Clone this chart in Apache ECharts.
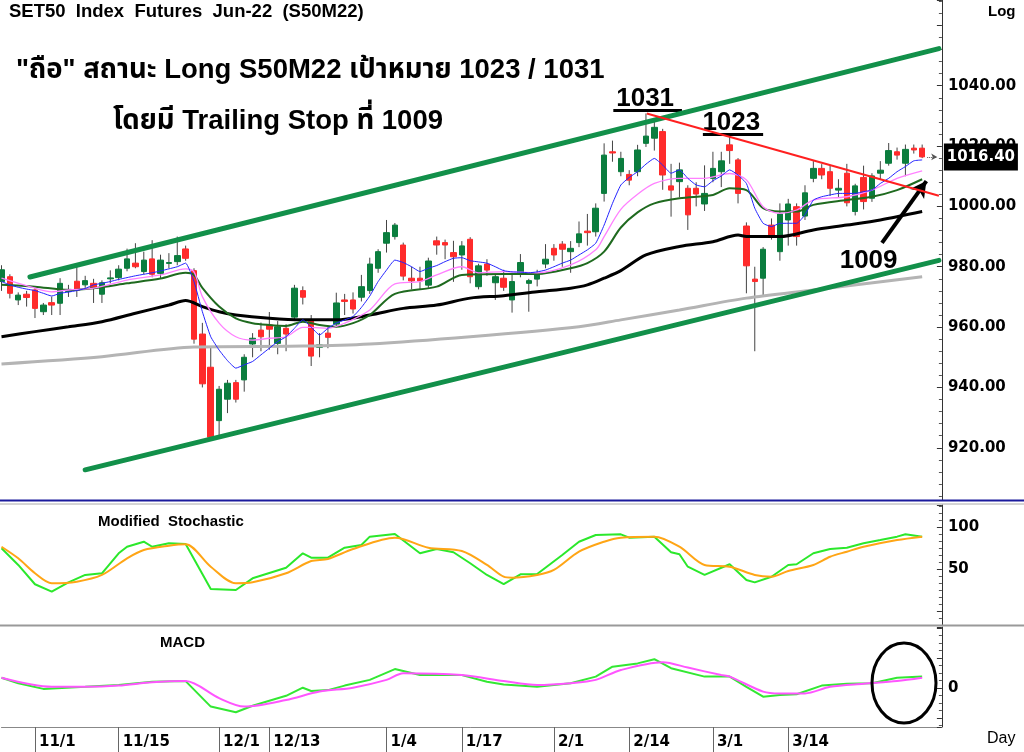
<!DOCTYPE html>
<html><head><meta charset="utf-8">
<script src="https://cdn.jsdelivr.net/npm/echarts@6/dist/echarts.min.js"></script>
<style>html,body{margin:0;padding:0;background:#fff}#c{width:1024px;height:752px}</style>
</head><body><div id="c"></div>
<script>
// ---------- data ----------
const dates = ['10/26','10/27','10/28','10/29','11/1','11/2','11/3','11/4','11/5','11/8','11/9','11/10','11/11','11/12',
'11/15','11/16','11/17','11/18','11/19','11/22','11/23','11/24','11/25','11/26','11/29','11/30','12/1','12/2','12/3',
'12/7','12/8','12/9','12/13','12/14','12/15','12/16','12/17','12/20','12/21','12/22','12/23','12/24','12/27','12/28',
'12/29','12/30','1/4','1/5','1/6','1/7','1/10','1/11','1/12','1/13','1/14','1/17','1/18','1/19','1/20','1/21','1/24',
'1/25','1/26','1/27','1/28','1/31','2/1','2/2','2/3','2/4','2/7','2/8','2/9','2/10','2/11','2/14','2/15','2/17','2/18',
'2/21','2/22','2/23','2/24','2/25','2/28','3/1','3/2','3/3','3/4','3/7','3/8','3/9','3/10','3/11','3/14','3/15','3/16',
'3/17','3/18','3/21','3/22','3/23','3/24','3/25','3/28','3/29','3/30','3/31','4/1','4/4','4/5',' ','  '];
const dateTicks = ['11/1','11/15','12/1','12/13','1/4','1/17','2/1','2/14','3/1','3/14'];

const opens = [975.1,976.7,969.0,970.9,972.3,965.1,968.1,967.9,971.8,975.2,
974.0,974.5,970.9,976.0,976.4,979.5,981.2,978.4,982.6,977.8,
981.1,981.7,985.9,978.7,957.7,946.7,929.0,936.1,941.6,942.5,
954.4,959.0,960.7,954.6,959.6,963.3,972.1,962.4,953.3,958.0,
961.0,969.0,969.0,969.9,972.1,979.5,987.8,990.0,987.2,976.2,
976.2,973.9,988.6,988.0,984.7,983.9,989.1,973.4,980.9,974.7,
976.2,969.0,977.8,974.5,975.9,980.9,986.1,987.5,985.0,988.0,
991.8,991.6,1004.3,1018.1,1011.5,1010.6,1011.5,1020.9,1022.6,1024.8,
1006.8,1008.2,1006.0,1006.0,1000.8,1009.3,1011.5,1020.4,1015.4,993.5,
975.9,976.2,993.8,985.0,995.5,999.9,996.8,1009.3,1012.6,1011.5,
1005.4,1011.0,998.3,1009.6,1002.7,1011.0,1014.3,1018.1,1014.3,1019.3,1019.3];
const closes = [979.0,971.2,970.6,969.8,966.2,967.3,967.3,974.5,972.5,972.2,
975.4,973.1,974.7,976.3,979.2,982.6,980.0,982.2,977.5,982.2,
981.4,983.7,982.8,956.0,941.2,923.5,939.4,941.4,936.1,950.0,
956.3,956.8,959.3,960.1,957.7,972.9,969.9,950.4,954.1,956.6,
968.0,968.5,966.0,973.4,980.9,985.0,991.3,993.8,976.9,975.3,
975.3,981.9,987.2,987.2,983.3,986.9,976.7,980.3,978.9,976.7,
973.2,975.1,981.4,975.4,977.6,982.5,983.9,985.8,986.1,990.9,
991.3,999.4,1017.0,1017.7,1015.9,1008.7,1018.7,1023.3,1026.2,1010.4,
1005.4,1012.1,997.2,1004.1,1004.3,1012.6,1015.1,1018.5,1004.3,980.3,
975.1,985.8,990.0,997.5,1000.8,990.0,1004.5,1012.6,1010.4,1006.0,
1006.0,1001.2,1006.8,1001.6,1010.1,1012.0,1018.5,1017.0,1018.9,1018.7,1016.4];
const lows = [972.0,969.5,967.3,966.8,963.0,964.0,964.0,964.0,970.0,970.0,
973.0,968.0,968.0,974.5,975.5,978.5,979.5,977.5,976.5,976.0,
979.5,980.5,982.0,954.5,940.0,922.5,923.9,931.5,935.0,938.6,
950.0,952.0,952.5,951.0,952.0,962.0,967.5,947.1,950.0,953.0,
960.0,964.0,964.5,968.5,971.0,978.0,984.7,989.0,975.5,972.5,
972.5,973.0,984.0,982.5,975.0,979.0,974.5,972.5,977.0,969.0,
972.0,964.8,976.5,965.1,973.5,979.5,982.0,980.0,978.0,986.5,
987.0,990.0,1001.6,1014.8,1010.0,1007.0,1010.0,1019.7,1018.5,1005.5,
996.6,1003.0,992.2,1000.0,998.5,1008.0,1006.4,1014.1,1001.0,971.2,
952.0,970.0,989.0,982.0,987.0,987.0,995.5,1008.0,1009.0,1003.5,
1003.0,1000.0,997.0,999.0,1001.5,1009.0,1013.5,1015.5,1010.0,1017.5,1016.0];
const highs = [980.5,977.5,971.5,972.0,973.0,968.0,970.1,976.2,974.0,980.0,
977.0,976.0,975.5,978.8,980.5,986.0,987.8,985.0,988.8,984.0,
984.5,990.0,987.0,979.5,961.4,953.5,940.5,942.5,942.5,951.0,
958.0,961.5,965.0,962.0,961.0,974.0,973.5,964.0,958.0,960.5,
971.4,971.0,971.5,977.3,983.0,985.8,995.5,994.5,988.0,980.0,
980.0,983.0,990.0,989.0,988.6,988.5,989.8,981.0,982.5,977.5,
979.0,977.5,984.2,976.0,979.0,987.5,987.5,988.5,988.5,995.0,
997.5,1001.0,1020.9,1021.8,1018.1,1012.0,1020.4,1030.8,1028.5,1025.7,
1014.1,1014.5,1007.0,1008.0,1013.6,1018.1,1018.1,1023.1,1016.0,994.7,
980.0,986.5,996.0,1001.0,1002.5,1001.0,1007.0,1015.0,1014.0,1013.6,
1009.0,1014.1,1007.5,1013.5,1011.0,1015.0,1021.0,1019.5,1020.5,1020.5,1020.5];

// moving averages
const maBlue = [975.1,974.0,973.2,972.6,972.1,971.2,970.3,971.2,971.6,972.1,
972.8,974.0,974.5,975.1,975.8,976.4,977.0,977.5,978.0,978.6,
979.3,980.0,981.2,975.1,965.1,956.8,952.4,948.9,946.4,947.5,
948.6,950.8,953.0,955.2,956.8,959.6,962.4,960.0,957.4,959.6,
961.3,962.4,963.5,966.5,970.3,975.1,978.9,982.2,981.4,980.0,
978.4,979.5,980.4,981.7,982.8,983.0,982.0,981.6,981.2,980.0,
978.7,978.3,978.2,978.0,978.3,978.9,980.0,981.2,982.2,983.9,
985.6,987.8,993.8,1001.0,1007.1,1009.6,1011.5,1014.0,1015.9,1013.7,
1011.0,1012.1,1009.3,1007.1,1006.5,1008.5,1010.1,1012.1,1010.4,1007.6,
999.4,994.4,993.3,994.4,994.4,994.4,997.2,1002.1,1003.2,1003.8,
1004.3,1004.3,1004.3,1004.9,1005.4,1007.6,1009.3,1011.5,1013.2,1015.1,1015.4];
const maPink = [[0,976.2],[4,972.9],[6,971.7],[8,972.3],[11,972.9],[15,975.6],[19,977.3],[22,979.3],[23,978.3],
[24,970.1],[26,961.3],[28,956.8],[30,955.7],[32,956.3],[34,956.8],[36,959.9],[37,959.9],[39,959.6],[41,961.3],
[44,965.7],[47,974.3],[50,975.1],[52,977.3],[55,980.0],[57,978.0],[60,978.4],[64,978.0],[68,980.6],[71,985.6],
[72,990.0],[74,999.0],[76,1004.0],[78,1007.6],[81,1009.3],[84,1009.3],[87,1010.9],[89,1008.8],[91,999.9],
[93,997.7],[95,998.8],[97,1002.1],[101,1003.2],[104,1005.4],[107,1009.3],[110,1011.8]];
const maDkGreen = [[0,974.0],[4,973.4],[8,972.3],[11,972.9],[15,974.5],[19,976.1],[22,978.0],[23,977.3],[24,973.0],
[26,966.8],[28,962.9],[30,961.3],[32,960.7],[34,960.4],[36,961.8],[38,960.7],[40,960.1],[42,961.3],[44,964.0],
[47,971.0],[52,973.4],[55,977.3],[60,977.6],[64,977.6],[68,979.5],[70,981.2],[72,985.0],[74,993.0],[76,998.0],
[78,1001.0],[81,1002.7],[85,1003.8],[87,1006.0],[89,1005.4],[91,999.4],[93,998.3],[95,998.3],[97,1000.5],
[101,1002.1],[104,1003.2],[107,1005.4],[110,1009.0]];
const maBlack = [[0,956.8],[4,958.5],[8,960.1],[12,961.8],[16,964.6],[20,967.3],[22,968.8],[24,966.8],[26,965.1],
[28,964.0],[32,962.9],[36,962.4],[40,962.4],[44,964.0],[48,966.2],[52,967.3],[56,969.6],[60,970.4],[64,971.7],
[68,972.9],[70,974.0],[72,976.2],[74,978.7],[77,983.9],[81,986.7],[85,988.3],[88,990.5],[89,990.0],[93,990.0],
[97,992.2],[101,993.8],[105,995.5],[110,998.3]];
const maGray = [[0,947.8],[12,950.2],[23,953.4],[36,953.7],[44,954.4],[56,956.8],[69,960.1],[74,962.4],[81,965.7],
[89,969.6],[97,972.3],[110,976.7]];

// drawn trend lines (index, price)
const channelUpper = [[3.4,976.6],[112,1052.3]];
const channelLower = [[10,912.7],[112,982.1]];
const trendRed = [[77.1,1030.8],[112,1003.5]];
const lastPrice = 1016.40;

// indicators
const stochK = [[0,74.6],[2,54.8],[4,31.8],[6,23],[8,34.1],[10,42.9],[12,44.9],[14,68.7],[15,76.5],[17,82.5],[18,76.5],
[20,80.6],[22,79.8],[25,26.2],[28,25],[30,38.9],[34,51.5],[36,68.7],[37,63.5],[39,63.5],[41,75.4],[43,78.6],[44,88.5],
[47,91.7],[50,68.7],[52,73.8],[54,69.9],[56,56.8],[58,42.9],[60,32],[62,43.7],[64,44],[67,66.7],[69,82.5],[71,90.5],
[74,91.3],[75,87.3],[78,88.5],[80,69.9],[81,67.5],[82,52.7],[84,42.9],[87,55.6],[89,36.9],[90,34.1],[92,40.8],[94,54.8],
[95,55.6],[97,68.7],[99,73.8],[101,75.4],[103,80.6],[105,84.5],[107,88.5],[108,91.3],[110,88.5]];
const stochD = [[0,76.5],[2,62.7],[4,44.9],[6,33],[9,34.9],[12,42.9],[15,62.7],[17,72.6],[20,77.7],[22,79.4],[25,52.7],
[28,33],[30,34.1],[34,44.9],[37,59.5],[39,61.9],[42,73.8],[47,87.3],[51,75.4],[55,71.4],[58,54.8],[60,40.8],[61,39.6],
[64,42.9],[66,48.8],[69,70.6],[72,82.5],[74,87.3],[78,88.5],[81,76.5],[84,54.8],[87,52.7],[90,42.9],[92,40.8],[94,47.6],
[97,54.8],[99,64.6],[101,70.6],[103,76.5],[107,84.5],[110,88.5]];
const macdLine = [[0,3.4],[2,1.6],[5,-0.3],[10,0.4],[14,1.0],[18,2.1],[22,2.3],[25,-6.2],[28,-8.1],[30,-5.9],[34,-2.6],
[36,0.1],[37,-1.0],[39,-0.7],[41,0.8],[44,2.7],[47,6.3],[50,4.3],[55,4.3],[58,2.1],[60,1.2],[64,0.4],[68,1.6],[71,3.8],
[73,7.1],[76,8.2],[78,9.6],[80,6.6],[84,3.8],[87,3.8],[89,0.4],[91,-2.9],[93,-2.3],[95,-2.1],[98,0.8],[101,1.4],[104,1.6],
[107,3.4],[110,3.8]];
const macdSignal = [[0,3.4],[6,0.4],[10,0.4],[14,0.8],[18,1.9],[22,2.3],[26,-3.4],[29,-6.2],[34,-4.0],[38,-1.2],[42,0.1],
[46,2.7],[48,4.9],[55,4.3],[60,2.3],[64,1.0],[68,1.6],[71,2.7],[74,6.0],[79,8.6],[82,6.8],[86,4.3],[87,3.8],[91,-1.2],
[93,-1.8],[96,-1.8],[99,0.4],[103,1.4],[107,2.3],[110,3.4]];

const priceTicks = [920,940,960,980,1000,1020,1040];
const stochTicks = [50,100];

// ---------- chart ----------
const chart = echarts.init(document.getElementById('c'));
const NUM = '"DejaVu Sans", sans-serif';
const TXT = '"Liberation Sans", Arial, "Noto Sans Thai", "Noto Sans", sans-serif';
const last = dates.length - 1;
const gridL = 1.5, gridR = 85.1;

const yCommon = {
  position: 'right', offset: 3, scale: true,
  axisLine: {show: true, onZero: false, lineStyle: {color: '#333', width: 1}},
  axisTick: {show: true, inside: true, length: 5, lineStyle: {color: '#333'}},
  minorTick: {show: true, splitNumber: 5, length: 3, lineStyle: {color: '#555'}},
  splitLine: {show: false},
  axisLabel: {color: '#000', fontFamily: NUM, fontWeight: 'bold', fontSize: 15, margin: 6}
};

const candleBody = opens.map((o, i) => [o, closes[i], Math.min(o, closes[i]), Math.max(o, closes[i])]);
const wickData = opens.map((o, i) => [i, lows[i], highs[i]]);

const ln = (name, data, color, width, xIdx, yIdx, smooth) => ({
  name, type: 'line', data, xAxisIndex: xIdx, yAxisIndex: yIdx, showSymbol: false, symbol: 'none',
  smooth: smooth, lineStyle: {color, width}, silent: true, z: 4
});

chart.setOption({
  animation: false,
  backgroundColor: '#fff',
  grid: [
    {left: gridL, right: gridR, top: 0, height: 500},
    {left: gridL, right: gridR, top: 505, height: 120},
    {left: gridL, right: gridR, top: 627, height: 100}
  ],
  xAxis: [
    {type: 'category', gridIndex: 0, data: dates, boundaryGap: false, show: false},
    {type: 'value', gridIndex: 0, min: 0, max: last, show: false},
    {type: 'value', gridIndex: 1, min: 0, max: last, show: false},
    {type: 'category', gridIndex: 2, data: dates, boundaryGap: false,
      axisLine: {show: true, onZero: false, lineStyle: {color: '#888', width: 1}},
      axisTick: {show: true, length: 25, interval: (i, v) => dateTicks.includes(v), lineStyle: {color: '#666'}},
      axisLabel: {interval: (i, v) => dateTicks.includes(v), align: 'left', padding: [0, 0, 0, 4], margin: 8,
        color: '#000', fontFamily: NUM, fontWeight: 'bold', fontSize: 15},
      splitLine: {show: false}},
    {type: 'value', gridIndex: 2, min: 0, max: last, show: false}
  ],
  yAxis: [
    Object.assign({}, yCommon, {gridIndex: 0, min: 902.7, max: 1068.4, minInterval: 20, maxInterval: 20,
      axisLabel: Object.assign({}, yCommon.axisLabel, {
        formatter: v => priceTicks.some(t => Math.abs(t - v) < 1e-6) ? v.toFixed(2) : ''})}),
    Object.assign({}, yCommon, {gridIndex: 1, min: -16.7, max: 126.2, minInterval: 50, maxInterval: 50,
      minorTick: {show: true, splitNumber: 6, length: 3, lineStyle: {color: '#555'}},
      axisLabel: Object.assign({}, yCommon.axisLabel, {
        formatter: v => stochTicks.some(t => Math.abs(t - v) < 1e-6) ? String(v) : ''})}),
    Object.assign({}, yCommon, {gridIndex: 2, min: -13, max: 20.33, minInterval: 10, maxInterval: 10,
      minorTick: {show: true, splitNumber: 4, length: 3, lineStyle: {color: '#555'}},
      axisLabel: Object.assign({}, yCommon.axisLabel, {
        formatter: v => Math.abs(v) < 1e-6 ? '0' : ''})})
  ],
  series: [
    {
      name: 'wick', type: 'custom', xAxisIndex: 0, yAxisIndex: 0, data: wickData, clip: true, silent: true, z: 2,
      renderItem: (params, api) => {
        const a = api.coord([api.value(0), api.value(1)]);
        const b = api.coord([api.value(0), api.value(2)]);
        return {type: 'line', shape: {x1: a[0], y1: a[1], x2: b[0], y2: b[1]}, style: {stroke: '#444', lineWidth: 1}};
      }
    },
    {
      name: 'S50M22', type: 'candlestick', xAxisIndex: 0, yAxisIndex: 0, data: candleBody, barWidth: 6, z: 3, silent: true,
      itemStyle: {color: '#0b7d3e', color0: '#ff2b2b', borderColor: '#0b7d3e', borderColor0: '#ff2b2b', borderWidth: 1}
    },
    ln('MA200', maGray, '#b4b4b4', 3, 1, 0, 0.3),
    ln('MA75', maBlack, '#000', 3, 1, 0, 0.3),
    ln('MA25', maDkGreen, '#1f6a1f', 2, 1, 0, 0.3),
    ln('MA10', maPink, '#ff80ff', 1.3, 1, 0, 0.3),
    ln('MA5', maBlue, '#2424ff', 1, 0, 0, 0.15),
    Object.assign(ln('upper', channelUpper, '#12904a', 5, 1, 0, false), {z: 5, lineStyle: {color: '#12904a', width: 5, cap: 'round'}}),
    Object.assign(ln('lower', channelLower, '#12904a', 5, 1, 0, false), {z: 5, lineStyle: {color: '#12904a', width: 5, cap: 'round'}}),
    Object.assign(ln('trend', trendRed, '#ff2020', 2, 1, 0, false), {
      z: 6,
      markLine: {
        silent: true, symbol: 'none', animation: false, label: {show: false},
        data: [
          [{coord: [73.1, 1031.7], lineStyle: {color: '#000', width: 3, type: 'solid'}}, {coord: [81.3, 1031.7]}],
          [{coord: [83.8, 1024.0], lineStyle: {color: '#000', width: 3, type: 'solid'}}, {coord: [91.0, 1024.0]}],
          [{coord: [105.2, 987.9], symbol: 'none', lineStyle: {color: '#000', width: 4, type: 'solid'}},
           {coord: [110.5, 1008.4], symbol: 'arrow', symbolSize: [13, 16]}],
          [{coord: [110.6, lastPrice], symbol: 'none', lineStyle: {color: '#555', width: 1, type: 'dotted'}},
           {coord: [111.8, lastPrice], symbol: 'arrow', symbolSize: [5, 6]}]
        ]
      },
      markPoint: {
        silent: true, animation: false,
        data: [
          {coord: [76.9, 1035.6], symbol: 'circle', symbolSize: 1, itemStyle: {color: 'rgba(0,0,0,0)'},
            label: {show: true, formatter: '1031', position: 'inside', color: '#000', fontFamily: TXT, fontWeight: 'bold', fontSize: 26}},
          {coord: [87.2, 1027.6], symbol: 'circle', symbolSize: 1, itemStyle: {color: 'rgba(0,0,0,0)'},
            label: {show: true, formatter: '1023', position: 'inside', color: '#000', fontFamily: TXT, fontWeight: 'bold', fontSize: 26}},
          {coord: [103.6, 981.9], symbol: 'circle', symbolSize: 1, itemStyle: {color: 'rgba(0,0,0,0)'},
            label: {show: true, formatter: '1009', position: 'inside', color: '#000', fontFamily: TXT, fontWeight: 'bold', fontSize: 26}},
          {coord: [last, lastPrice], symbol: 'rect', symbolSize: [74, 27], symbolOffset: [42, 0], itemStyle: {color: '#000'},
            label: {show: true, formatter: lastPrice.toFixed(2), position: 'inside', color: '#fff', fontFamily: NUM, fontWeight: 'bold', fontSize: 15}}
        ]
      }
    }),
    ln('%K', stochK, '#2be82b', 2, 2, 1, false),
    ln('%D', stochD, '#ffa515', 2, 2, 1, 0.3),
    ln('MACD', macdLine, '#33e833', 2, 4, 2, false),
    ln('Signal', macdSignal, '#ff55ff', 2, 4, 2, 0.3)
  ],
  graphic: [
    {type: 'line', shape: {x1: 0, y1: 500.5, x2: 1024, y2: 500.5}, style: {stroke: '#1a1a9c', lineWidth: 2}, z: 10},
    {type: 'line', shape: {x1: 0, y1: 504, x2: 1024, y2: 504}, style: {stroke: '#aaa', lineWidth: 1}, z: 10},
    {type: 'line', shape: {x1: 0, y1: 625.5, x2: 1024, y2: 625.5}, style: {stroke: '#999', lineWidth: 2}, z: 10},
    {type: 'text', z: 10, style: {text: 'SET50  Index  Futures  Jun-22  (S50M22)', x: 9, y: 12, verticalAlign: 'middle',
      font: 'bold 18.5px ' + TXT, fill: '#000'}},
    {type: 'text', z: 10, style: {text: '"ถือ" สถานะ Long S50M22 เป้าหมาย 1023 / 1031', x: 16, y: 70, verticalAlign: 'middle',
      font: 'bold 27.5px ' + TXT, fill: '#000'}},
    {type: 'text', z: 10, style: {text: 'โดยมี Trailing Stop ที่ 1009', x: 113, y: 121, verticalAlign: 'middle',
      font: 'bold 27.5px ' + TXT, fill: '#000'}},
    {type: 'text', z: 10, style: {text: 'Log', x: 988, y: 12, verticalAlign: 'middle', font: 'bold 15px ' + TXT, fill: '#000'}},
    {type: 'text', z: 10, style: {text: 'Day', x: 987, y: 739, verticalAlign: 'middle', font: '16px ' + TXT, fill: '#000'}},
    {type: 'text', z: 10, style: {text: 'Modified  Stochastic', x: 98, y: 522, verticalAlign: 'middle', font: 'bold 15px ' + TXT, fill: '#000'}},
    {type: 'text', z: 10, style: {text: 'MACD', x: 160, y: 643, verticalAlign: 'middle', font: 'bold 15px ' + TXT, fill: '#000'}},
    {type: 'ellipse', z: 10, shape: {cx: 904, cy: 683, rx: 32, ry: 40}, style: {fill: 'none', stroke: '#000', lineWidth: 3}}
  ]
});
</script>
</body></html>
